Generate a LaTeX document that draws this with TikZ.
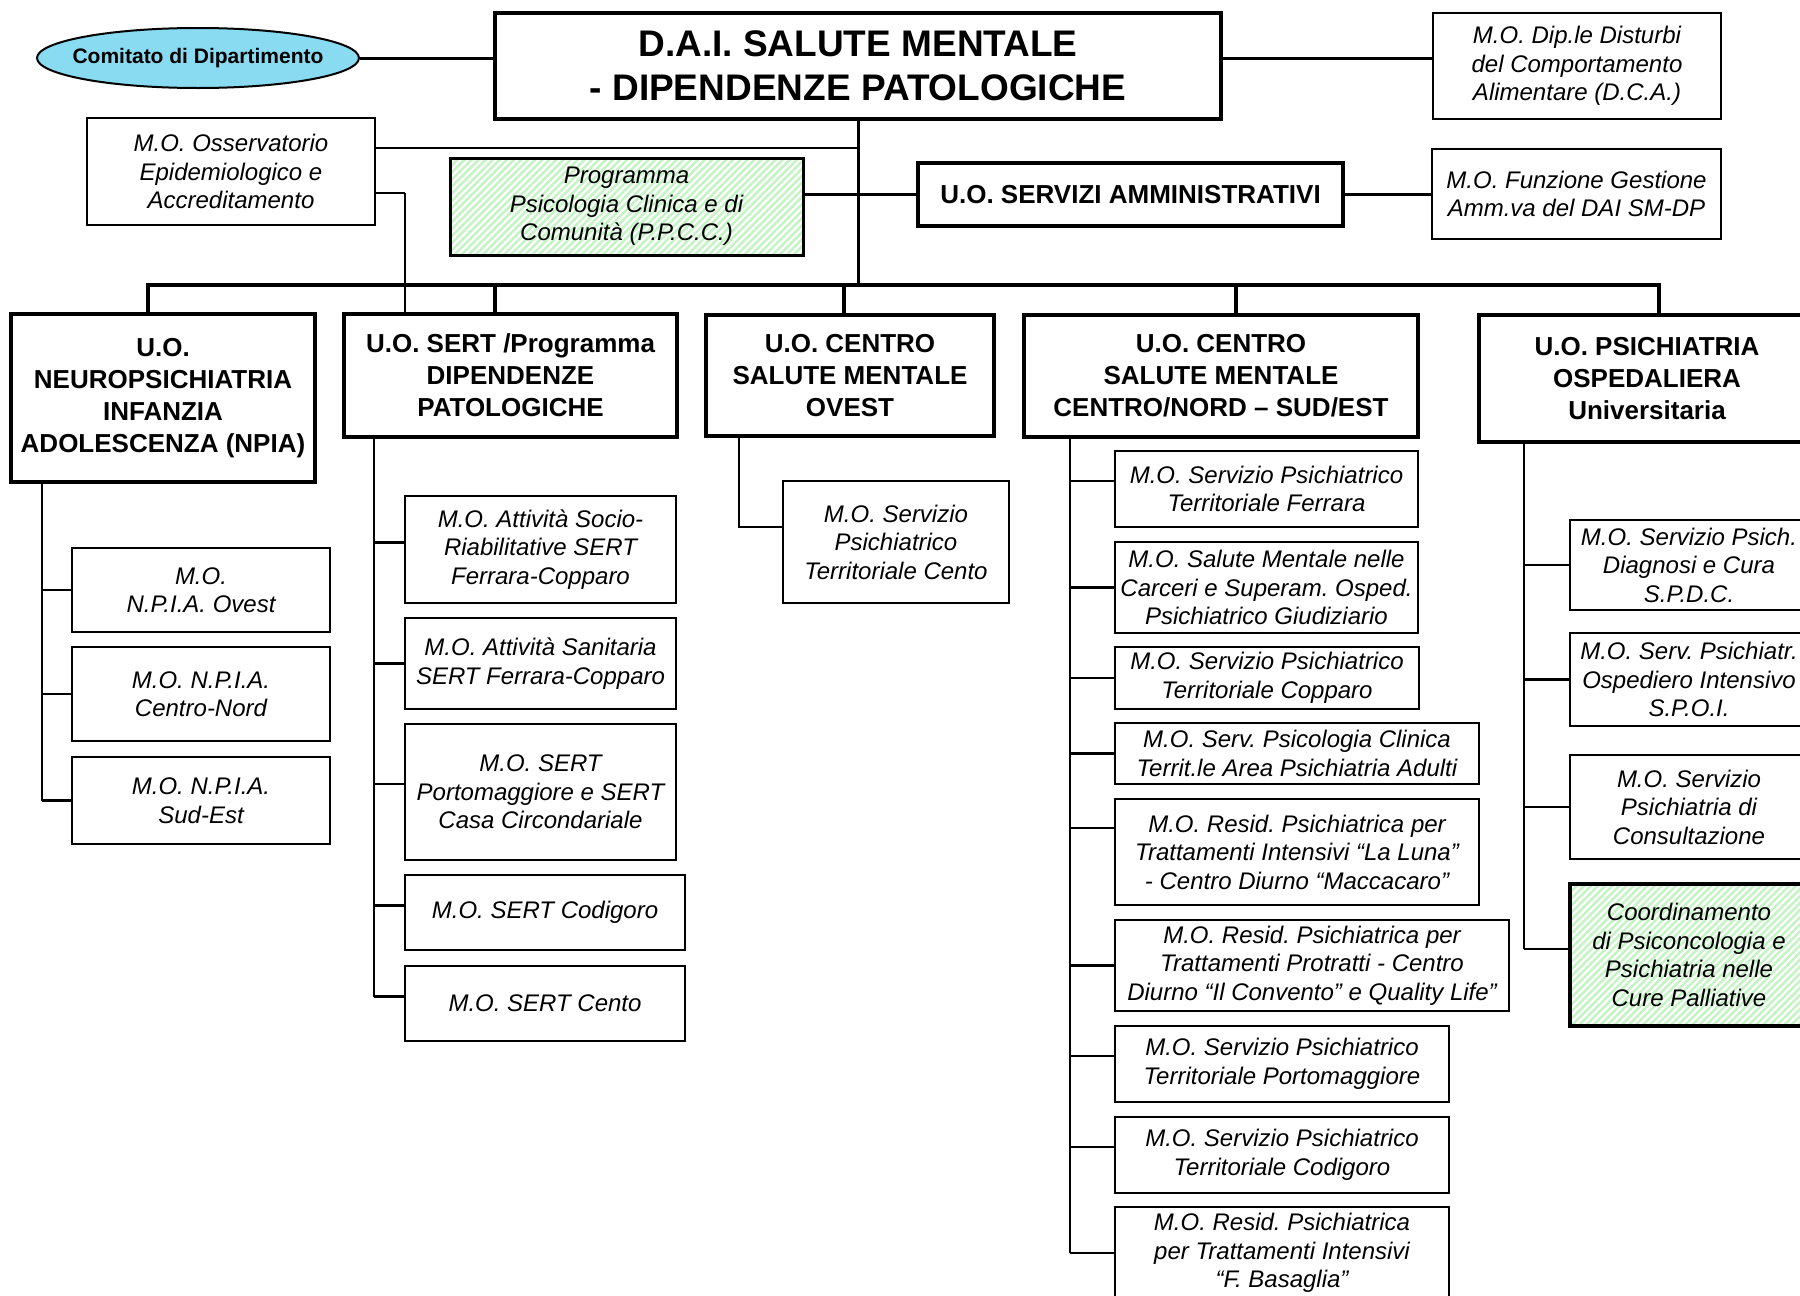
\documentclass[tikz,border=0pt]{standalone}
\usepackage{fontspec}
\setmainfont{Liberation Sans}
\usetikzlibrary{shapes.geometric,patterns.meta,calc}
\definecolor{cyanfill}{RGB}{137,219,242}
\definecolor{hatchgreen}{RGB}{196,244,196}
\newcommand\xmofont{\fontsize{24}{28.5}\selectfont\itshape}
\newcommand\xuofont{\fontsize{26}{32}\selectfont\bfseries}
\newcommand\xdaifont{\fontsize{37}{44}\selectfont\bfseries}
\newcommand\xcomfont{\fontsize{21}{25}\selectfont\bfseries}
\frenchspacing
\tikzset{
 base/.style={draw=black, anchor=north west, inner sep=0pt, outer sep=0pt, align=center},
 sz/.style 2 args={minimum width=#1pt, minimum height=#2pt},
 mobox/.style={base, line width=2pt, font=\xmofont},
 uobox/.style={base, line width=4pt, font=\xuofont},
 greenbox/.style={base, line width=3pt, font=\xmofont, preaction={fill=white},
   pattern={Lines[angle=45,distance=5pt,line width=2.5pt]}, pattern color=hatchgreen},
 conn/.style={line width=3pt},
 bus/.style={line width=4pt, line join=miter},
 sub/.style={line width=2pt},
 stub/.style={line width=2.5pt},
}
\begin{document}
\begin{tikzpicture}[x=1pt,y=-1pt]
\frenchspacing
\useasboundingbox (0,0) rectangle (1800,1296);
\clip (0,0) rectangle (1800,1296);
\fill[white] (0,0) rectangle (1800,1296);

% ---------- top level ----------
\node[ellipse, draw, line width=2pt, fill=cyanfill, minimum width=322pt, minimum height=60pt,
      inner sep=0pt, font=\xcomfont] (com) at (198,58) {\makebox[200pt][c]{Comitato di Dipartimento}};
\node[uobox, sz={726}{106}, font=\xdaifont] (dai) at (495,13) {D.A.I. SALUTE MENTALE\\- DIPENDENZE PATOLOGICHE};
\node[mobox, sz={288}{106}] (dca) at (1433,13) {M.O. Dip.le Disturbi\\del Comportamento\\Alimentare (D.C.A.)};
\node[mobox, sz={288}{107}] (oss) at (87,118) {M.O. Osservatorio\\Epidemiologico e\\Accreditamento};
\node[greenbox, sz={353}{97}] (ppcc) at (450,158) {Programma\\Psicologia Clinica e di\\Comunità (P.P.C.C.)};
\node[uobox, sz={425}{63}] (servizi) at (918,163) {U.O. SERVIZI AMMINISTRATIVI};
\node[mobox, sz={289}{90}] (funz) at (1432,149) {M.O. Funzione Gestione\\Amm.va del DAI SM-DP};

% ---------- second level ----------
\node[uobox, sz={304}{168}] (npia) at (11,314) {U.O.\\NEUROPSICHIATRIA\\INFANZIA\\ADOLESCENZA (NPIA)};
\node[uobox, sz={333}{123}] (sert) at (344,314) {U.O. SERT /Programma\\DIPENDENZE\\PATOLOGICHE};
\node[uobox, sz={288}{121}] (ovest) at (706,315) {U.O. CENTRO\\SALUTE MENTALE\\OVEST};
\node[uobox, sz={394}{122}] (cn) at (1024,315) {U.O. CENTRO\\SALUTE MENTALE\\CENTRO/NORD -- SUD/EST};
\node[uobox, sz={336}{127}] (psi) at (1479,315) {U.O. PSICHIATRIA\\OSPEDALIERA\\Universitaria};

% ---------- NPIA ----------
\node[mobox, sz={258}{84}] (n1) at (72,548) {M.O.\\N.P.I.A. Ovest};
\node[mobox, sz={258}{94}] (n2) at (72,647) {M.O. N.P.I.A.\\Centro-Nord};
\node[mobox, sz={258}{87}] (n3) at (72,757) {M.O. N.P.I.A.\\Sud-Est};

% ---------- SERT ----------
\node[mobox, sz={271}{107}] (s1) at (405,496) {M.O. Attività Socio-\\Riabilitative SERT\\Ferrara-Copparo};
\node[mobox, sz={271}{91}] (s2) at (405,618) {M.O. Attività Sanitaria\\SERT Ferrara-Copparo};
\node[mobox, sz={271}{136}] (s3) at (405,724) {M.O. SERT\\Portomaggiore e SERT\\Casa Circondariale};
\node[mobox, sz={280}{75}] (s4) at (405,875) {M.O. SERT Codigoro};
\node[mobox, sz={280}{75}] (s5) at (405,966) {M.O. SERT Cento};

% ---------- CSM Ovest ----------
\node[mobox, sz={226}{122}] (o1) at (783,481) {M.O. Servizio\\Psichiatrico\\Territoriale Cento};

% ---------- CSM Centro/Nord ----------
\node[mobox, sz={303}{76}] (c1) at (1115,451) {M.O. Servizio Psichiatrico\\Territoriale Ferrara};
\node[mobox, sz={303}{91}] (c2) at (1115,542) {M.O. Salute Mentale nelle\\Carceri e Superam. Osped.\\Psichiatrico Giudiziario};
\node[mobox, sz={304}{62}] (c3) at (1115,647) {M.O. Servizio Psichiatrico\\Territoriale Copparo};
\node[mobox, sz={364}{61}, line width=2.5pt] (c4) at (1115,723) {M.O. Serv. Psicologia Clinica\\Territ.le Area Psichiatria Adulti};
\node[mobox, sz={364}{106}] (c5) at (1115,799) {M.O. Resid. Psichiatrica per\\Trattamenti Intensivi “La Luna”\\- Centro Diurno “Maccacaro”};
\node[mobox, sz={394}{91}] (c6) at (1115,920) {M.O. Resid. Psichiatrica per\\Trattamenti Protratti - Centro\\Diurno “Il Convento” e Quality Life”};
\node[mobox, sz={334}{76}] (c7) at (1115,1026) {M.O. Servizio Psichiatrico\\Territoriale Portomaggiore};
\node[mobox, sz={334}{76}] (c8) at (1115,1117) {M.O. Servizio Psichiatrico\\Territoriale Codigoro};
\node[mobox, sz={334}{92}] (c9) at (1115,1207) {M.O. Resid. Psichiatrica\\per Trattamenti Intensivi\\“F. Basaglia”};

% ---------- Psichiatria ----------
\node[mobox, sz={238}{90}] (p1) at (1570,520) {M.O. Servizio Psich.\\Diagnosi e Cura\\S.P.D.C.};
\node[mobox, sz={238}{93}] (p2) at (1570,633) {M.O. Serv. Psichiatr.\\Ospediero Intensivo\\S.P.O.I.};
\node[mobox, sz={238}{104}] (p3) at (1570,755) {M.O. Servizio\\Psichiatria di\\Consultazione};
\node[greenbox, sz={238}{142}, line width=3.5pt] (p4) at (1570,884) {Coordinamento\\di Psiconcologia e\\Psichiatria nelle\\Cure Palliative};

% ---------- connectors: top ----------
\draw[conn] (com.east) -- (com.east -| dai.west);
\draw[conn] (dai.east |- com.east) -- (dca.west |- com.east);
\coordinate (busY) at (0,285);
\draw[conn] (dai.south) -- (dai.south |- busY);
\coordinate (ossU) at (0,148);
\draw[stub] (oss.east |- ossU) -- (dai.south |- ossU);
\coordinate (ossL) at (405,193);
\draw[stub] (oss.east |- ossL) -- (ossL);
\draw[sub] (ossL) -- (ossL |- sert.north);
\draw[conn] (ppcc.east |- servizi.west) -- (servizi.west);
\draw[conn] (servizi.east) -- (funz.west |- servizi.east);

% ---------- bus ----------
\coordinate (d1) at (148,285);
\coordinate (d2) at (495,285);
\coordinate (d3) at (844,285);
\coordinate (d4) at (1236,285);
\coordinate (d5) at (1659,285);
\draw[bus] (d1 |- npia.north) -- (d1) -- (d5) -- (d5 |- psi.north);
\draw[bus] (d2) -- (d2 |- sert.north);
\draw[bus] (d3) -- (d3 |- ovest.north);
\draw[bus] (d4) -- (d4 |- cn.north);

% ---------- NPIA connectors ----------
\coordinate (nx) at (42,0);
\draw[sub] (npia.south -| nx) -- (nx |- n3.west);
\foreach \b in {n1,n2,n3} \draw[stub] (nx |- \b.west) -- (\b.west);

% ---------- SERT connectors ----------
\coordinate (sx) at (374,0);
\coordinate (s1c) at ([yshift=7pt]s1.west);
\coordinate (s2c) at (s2.west);
\coordinate (s3c) at ([yshift=8pt]s3.west);
\coordinate (s4c) at ([yshift=7pt]s4.west);
\coordinate (s5c) at ([yshift=7pt]s5.west);
\draw[sub] (sert.south -| sx) -- (sx |- s5c);
\foreach \b in {s1c,s2c,s3c,s4c,s5c} \draw[stub] (sx |- \b) -- (\b);

% ---------- Ovest connector ----------
\coordinate (ox) at (739,0);
\coordinate (o1c) at ([yshift=15pt]o1.west);
\draw[sub] (ovest.south -| ox) |- (o1c);

% ---------- Centro/Nord connectors ----------
\coordinate (cx) at (1070,0);
\coordinate (c1c) at ([yshift=8pt]c1.west);
\coordinate (c2c) at (c2.west);
\coordinate (c3c) at (c3.west);
\coordinate (c4c) at (c4.west);
\coordinate (c5c) at ([yshift=24pt]c5.west);
\coordinate (c6c) at (c6.west);
\coordinate (c7c) at ([yshift=8pt]c7.west);
\coordinate (c8c) at ([yshift=8pt]c8.west);
\coordinate (c9c) at (c9.west);
\draw[sub] (cn.south -| cx) -- (cx |- c9c);
\foreach \b in {c1c,c2c,c3c,c4c,c5c,c6c,c7c,c8c,c9c} \draw[stub] (cx |- \b) -- (\b);

% ---------- Psichiatria connectors ----------
\coordinate (px) at (1524,0);
\coordinate (p1c) at (p1.west);
\coordinate (p2c) at (p2.west);
\coordinate (p3c) at (p3.west);
\coordinate (p4c) at ([yshift=6pt]p4.west);
\draw[sub] (psi.south -| px) -- (px |- p4c);
\foreach \b in {p1c,p2c,p3c,p4c} \draw[stub] (px |- \b) -- (\b);
\end{tikzpicture}
\end{document}
